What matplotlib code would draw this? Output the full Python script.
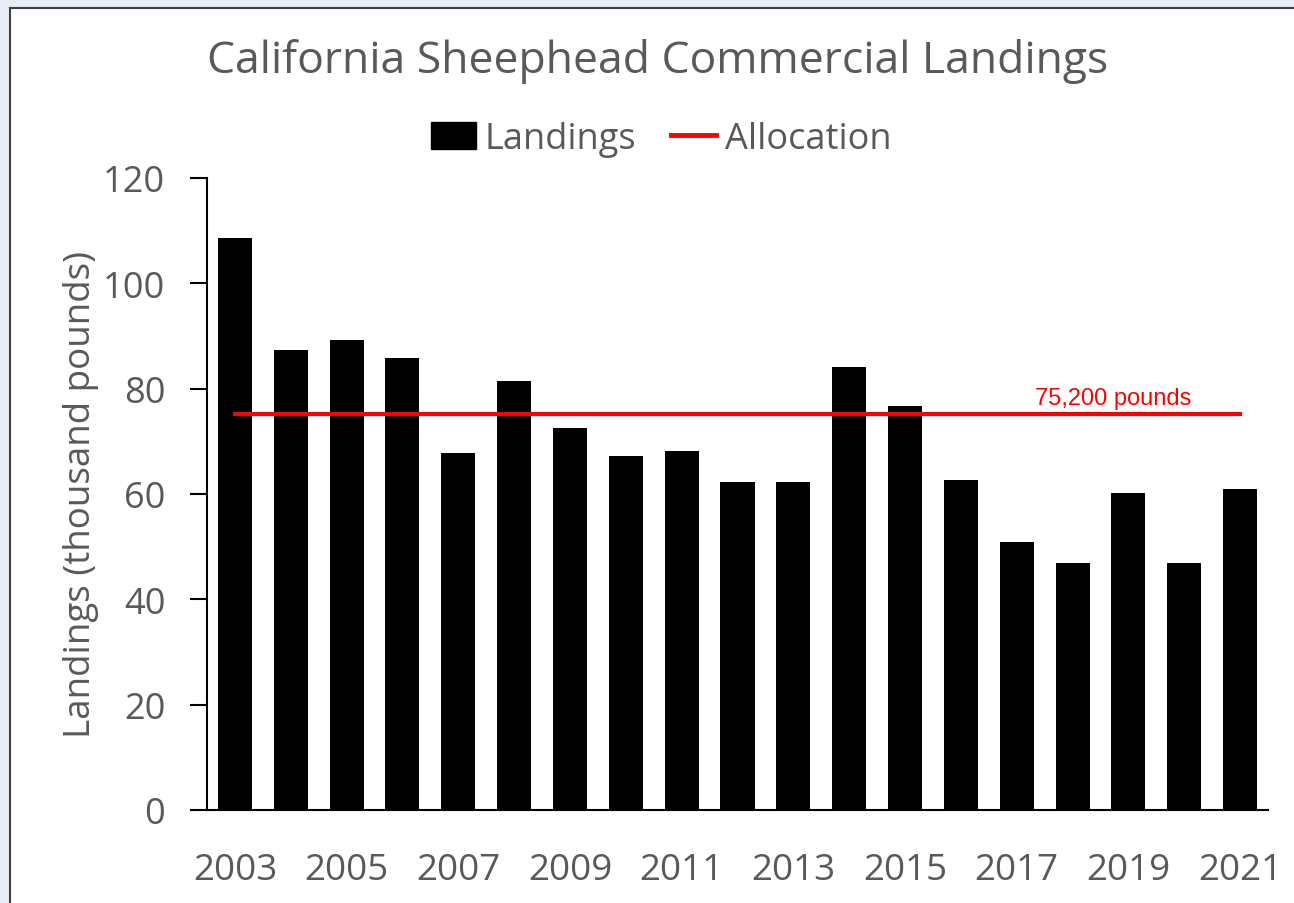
import matplotlib
matplotlib.use('Agg')
import matplotlib.pyplot as plt
from matplotlib.patches import Rectangle
from matplotlib.lines import Line2D

years = list(range(2003, 2022))
landings = [108.6, 87.3, 89.2, 85.8, 67.8, 81.5, 72.5, 67.2, 68.2, 62.3,
            62.3, 84.1, 76.7, 62.7, 50.9, 46.9, 60.2, 46.9, 60.9]
allocation = 75.2
tick_years = [str(y) if (y - 2003) % 2 == 0 else '' for y in years]

grey = '#595959'
plt.rcParams['font.family'] = ['Open Sans', 'DejaVu Sans']

W, H = 1294, 904
fig = plt.figure(figsize=(W / 100, H / 100), dpi=100)
fig.patch.set_facecolor('#e6edf6')

# white chart box with a dark border (right and bottom run off the image)
fig.patches.append(Rectangle((10 / W, -0.05), 1.1, 1 - 9 / H + 0.05,
                             transform=fig.transFigure, facecolor='white',
                             edgecolor='#404040', linewidth=1.5, zorder=-5))

ax = fig.add_axes([207 / W, 1 - 811 / H, (1268 - 207) / W, (811 - 179) / H])
ax.set_zorder(2)
ax.patch.set_alpha(0)

x = list(range(len(years)))
ax.bar(x, landings, width=0.61, color='black', zorder=2)
ax.plot([x[0], x[-1]], [allocation, allocation], color='red', lw=3, zorder=3)
ax.text(15.72, allocation + 0.9, '75,200 pounds', color='red', fontsize=17,
        family='Liberation Sans', ha='center', va='bottom')

ax.set_xlim(-0.5, len(years) - 0.5)
ax.set_ylim(0, 120)
ax.set_yticks(range(0, 121, 20))
ax.set_xticks(x)
ax.set_xticklabels(tick_years)
ax.tick_params(axis='x', length=0, pad=30, labelsize=26.5, colors=grey)
ax.tick_params(axis='y', length=12, width=1.5, pad=18, labelsize=26,
               colors='black', labelcolor=grey)
for s in ['top', 'right']:
    ax.spines[s].set_visible(False)
ax.spines['left'].set_linewidth(1.5)
ax.spines['bottom'].set_linewidth(1.5)
ax.set_ylabel('Landings (thousand pounds)', fontsize=26.5, color=grey, labelpad=3)

fig.text(658 / W, 1 - 61 / H, 'California Sheephead Commercial Landings',
         fontsize=32, color=grey, ha='center', va='center')

handles = [Rectangle((0, 0), 1, 1, color='black'),
           Line2D([], [], color='red', lw=3.5)]
fig.legend(handles, ['Landings', 'Allocation'], loc='center',
           bbox_to_anchor=(661 / W, 1 - 140 / H), ncol=2, frameon=False,
           fontsize=26, labelcolor=grey, handlelength=1.25, handleheight=0.75,
           handletextpad=0.25, columnspacing=0.95)

fig.savefig('out.png', dpi=100, facecolor=fig.get_facecolor())
